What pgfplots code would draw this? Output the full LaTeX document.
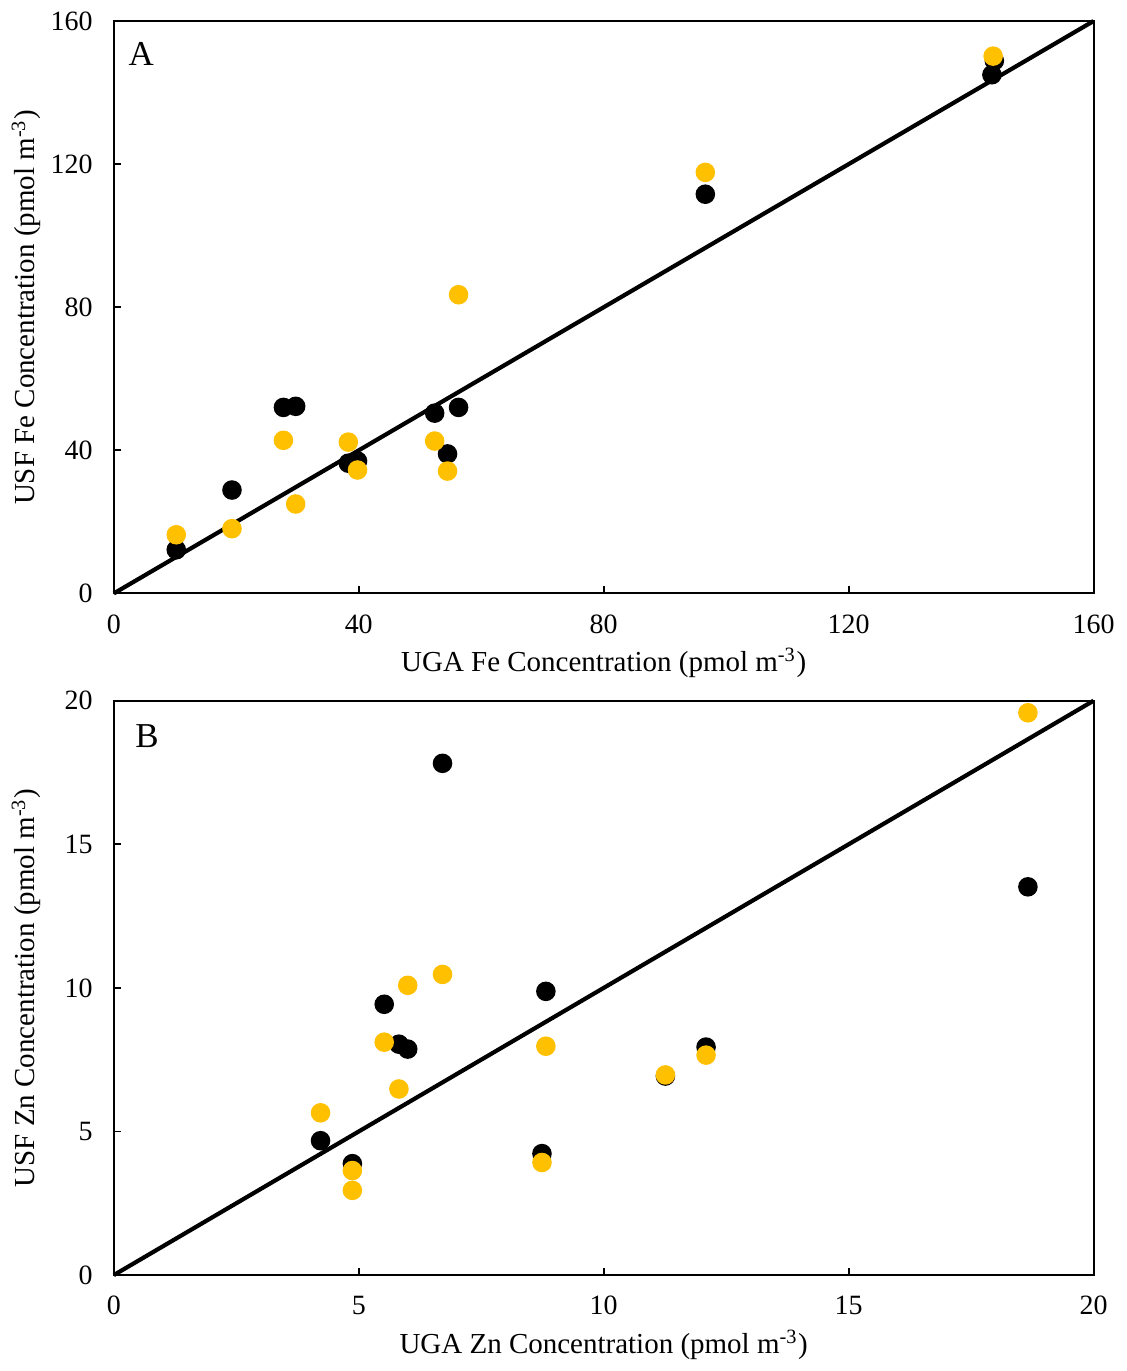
\documentclass[border=0pt]{standalone}
\usepackage{pgfplots}
\pgfplotsset{compat=1.18}
\usepackage{fontspec}
\setmainfont{Liberation Serif}
\definecolor{gold}{HTML}{FFC000}

\pgfplotsset{
  conc/.style={
    scale only axis,
    width=9.86cm,
    axis line style={line width=0.55pt},
    tick pos=left,
    tick align=inside,
    major tick length=2pt,
    tick style={line width=0.55pt, black},
    ticklabel style={font=\fontsize{8}{9}\selectfont},
    xticklabel style={yshift=-0.9mm},
    yticklabel style={xshift=-0.9mm},
    every axis x label/.style={at={(rel axis cs:0.5,0)}, yshift=-7.0mm, anchor=center,
      font=\fontsize{8.3}{10}\selectfont},
    every axis y label/.style={at={(rel axis cs:0,0.5)}, xshift=-8.8mm, rotate=90, anchor=center,
      font=\fontsize{8.3}{10}\selectfont},
    /pgf/number format/assume math mode=true,
    clip=false,
  },
  dotb/.style={only marks, mark=*, mark size=2.6pt, color=black},
  doty/.style={only marks, mark=*, mark size=2.6pt, color=gold},
}

\begin{document}
\begin{tikzpicture}
% Panel A: iron
\begin{axis}[conc,
  at={(0,0)}, anchor=south west,
  height=5.76cm,
  xmin=0, xmax=160, ymin=0, ymax=160,
  xtick={0,40,80,120,160}, ytick={0,40,80,120,160},
  xlabel={UGA Fe Concentration (pmol m\textsuperscript{-3})},
  ylabel={USF Fe Concentration (pmol m\textsuperscript{-3})},
]
\addplot[line width=1.2pt, black] coordinates {(0,0) (160,160)};
\addplot[dotb] coordinates {
  (10.2,12.2) (19.3,28.9) (27.7,52.0) (29.7,52.3) (38.3,36.4) (39.8,37.0)
  (52.4,50.4) (54.5,39.0) (56.3,52.0) (96.6,111.6) (143.4,145.0) (143.8,148.9)
};
\addplot[doty] coordinates {
  (10.2,16.4) (19.3,18.1) (27.7,42.8) (29.7,25.0) (38.3,42.3) (39.8,34.5)
  (52.4,42.6) (54.5,34.2) (56.3,83.5) (96.6,117.7) (143.6,150.2)
};
\node[font=\fontsize{10}{12}\selectfont] at (rel axis cs:0.028,0.943) {A};
\end{axis}

% Panel B: zinc
\begin{axis}[conc,
  at={(0,-6.86cm)}, anchor=south west,
  height=5.78cm,
  xmin=0, xmax=20, ymin=0, ymax=20,
  xtick={0,5,10,15,20}, ytick={0,5,10,15,20},
  xlabel={UGA Zn Concentration (pmol m\textsuperscript{-3})},
  ylabel={USF Zn Concentration (pmol m\textsuperscript{-3})},
]
\addplot[line width=1.2pt, black] coordinates {(0,0) (20,20)};
\addplot[dotb] coordinates {
  (4.22,4.68) (4.87,3.88) (5.52,9.43) (5.82,8.04) (6.00,7.87) (6.71,17.82)
  (8.82,9.88) (8.74,4.23) (11.26,6.93) (12.09,7.94) (18.66,13.52)
};
\addplot[doty] coordinates {
  (4.22,5.65) (4.87,3.64) (4.87,2.95) (5.52,8.11) (5.82,6.48) (6.00,10.09)
  (6.71,10.47) (8.82,7.97) (8.74,3.92) (11.26,6.97) (12.09,7.66) (18.66,19.58)
};
\node[font=\fontsize{10}{12}\selectfont] at (rel axis cs:0.034,0.939) {B};
\end{axis}
\end{tikzpicture}
\end{document}
